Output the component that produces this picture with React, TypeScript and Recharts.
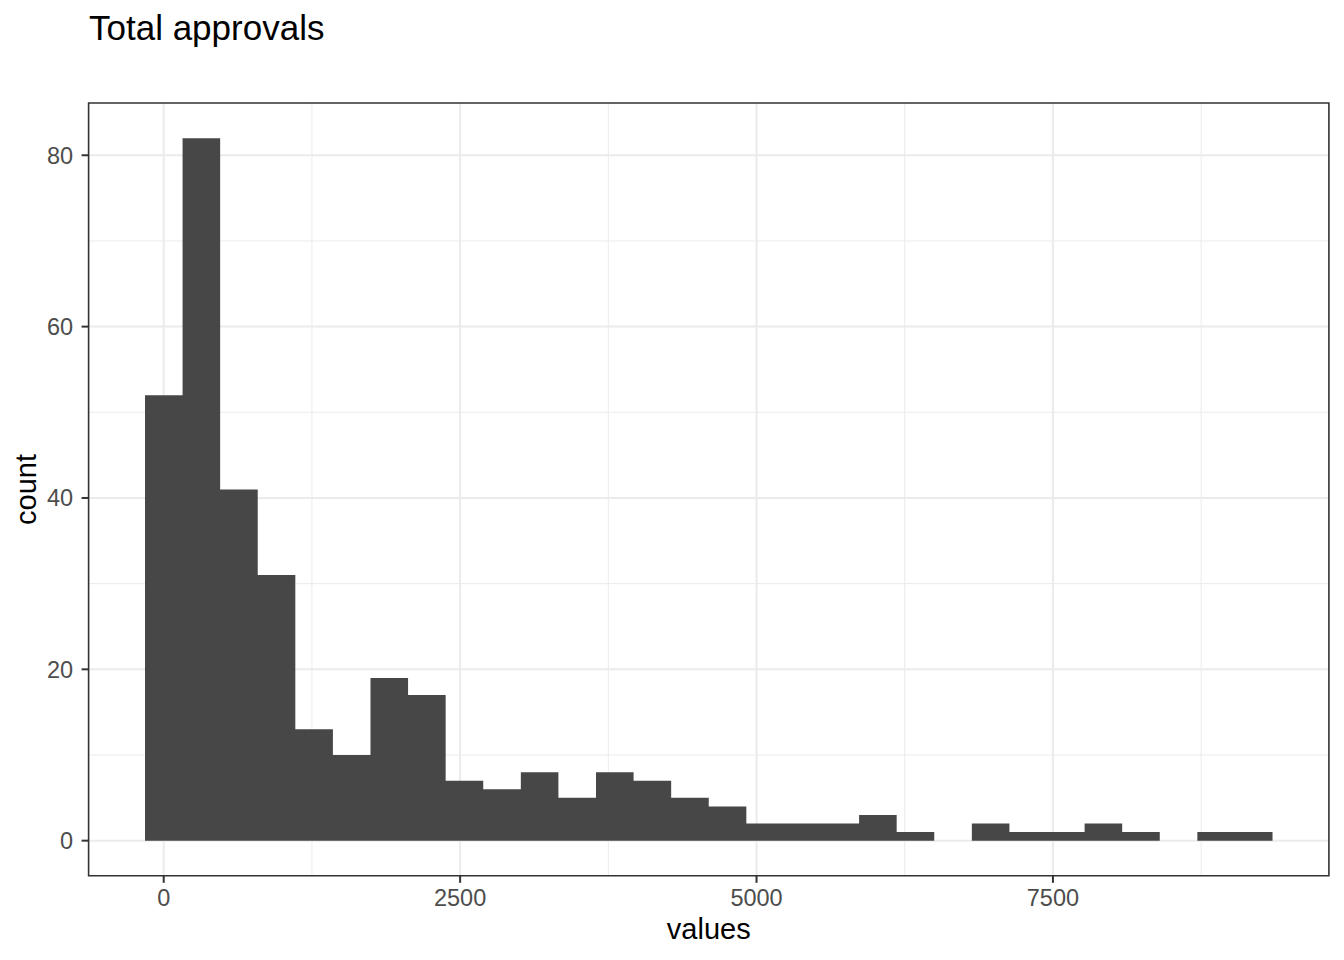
import React from "react";
import {
  ComposedChart,
  Area,
  XAxis,
  YAxis,
  CartesianGrid,
  ReferenceArea,
  Label,
} from "recharts";

// histogram bin edges (values) and the count in each bin
const binEdges = [
  -158, 159, 476, 793, 1110, 1427, 1744, 2061, 2378, 2695, 3012, 3329, 3646,
  3963, 4280, 4597, 4914, 5231, 5548, 5865, 6182, 6499, 6816, 7133, 7450, 7767,
  8084, 8401, 8718, 9035, 9352,
];
const binCounts = [
  52, 82, 41, 31, 13, 10, 19, 17, 7, 6, 8, 5, 8, 7, 5, 4, 2, 2, 2, 3, 1, 0, 2,
  1, 1, 2, 1, 0, 1, 1,
];

const xMajor = [0, 2500, 5000, 7500];
const xMinor = [1250, 3750, 6250, 8750];
const yMajor = [0, 20, 40, 60, 80];
const yMinor = [10, 30, 50, 70];
const xDomain: [number, number] = [-633.5, 9827.5];
const yDomain: [number, number] = [-4.1, 86.1];

// step area needs a closing point at the last edge
const data = binEdges.map((x, i) => ({
  x,
  count: binCounts[Math.min(i, binCounts.length - 1)],
}));

const font = "'Liberation Sans', Arial, Helvetica, sans-serif";
const tickStyle = { fill: "#4D4D4D", fontSize: 23.5, fontFamily: font };

const CountLabel = (props: any) => {
  const vb = props.viewBox || { x: 0, y: 103, height: 773 };
  const cx = vb.x + 36;
  const cy = vb.y + vb.height / 2;
  return (
    <text
      x={cx}
      y={cy}
      transform={`rotate(-90 ${cx} ${cy})`}
      textAnchor="middle"
      fontSize={29}
      fontFamily={font}
      fill="#000000"
    >
      count
    </text>
  );
};

export default function App() {
  return (
    <div
      style={{
        position: "absolute",
        left: 0,
        top: 0,
        width: 1344,
        height: 960,
        background: "#ffffff",
      }}
    >
      <div
        style={{
          position: "absolute",
          left: 89,
          top: 10,
          fontFamily: font,
          fontSize: 35,
          lineHeight: "35px",
          color: "#000000",
          whiteSpace: "nowrap",
        }}
      >
        Total approvals
      </div>
      <ComposedChart
        width={1344}
        height={960}
        data={data}
        margin={{ top: 103, right: 15.1, left: 0, bottom: 0 }}
      >
        <CartesianGrid
          horizontalValues={yMinor}
          verticalValues={xMinor}
          stroke="#EBEBEB"
          strokeWidth={1}
        />
        <CartesianGrid
          horizontalValues={yMajor}
          verticalValues={xMajor}
          stroke="#EBEBEB"
          strokeWidth={2}
        />
        <XAxis
          dataKey="x"
          type="number"
          domain={xDomain}
          allowDataOverflow
          ticks={xMajor}
          height={84.2}
          axisLine={false}
          tickSize={7}
          tickMargin={7}
          tickLine={{ stroke: "#333333", strokeWidth: 2 }}
          tick={tickStyle}
          interval={0}
        >
          <Label
            value="values"
            position="insideBottom"
            offset={21}
            fontSize={29}
            fontFamily={font}
            fill="#000000"
          />
        </XAxis>
        <YAxis
          type="number"
          domain={yDomain}
          allowDataOverflow
          ticks={yMajor}
          width={88.6}
          axisLine={false}
          tickSize={7}
          tickMargin={8.5}
          tickLine={{ stroke: "#333333", strokeWidth: 2 }}
          tick={tickStyle}
          interval={0}
        >
          <Label content={CountLabel} />
        </YAxis>
        <Area
          type="stepAfter"
          dataKey="count"
          baseValue={0}
          fill="#474747"
          fillOpacity={1}
          stroke="none"
          dot={false}
          activeDot={false}
          isAnimationActive={false}
        />
        <ReferenceArea
          x1={xDomain[0]}
          x2={xDomain[1]}
          y1={yDomain[0]}
          y2={yDomain[1]}
          fill="none"
          stroke="#333333"
          strokeWidth={1.6}
          ifOverflow="visible"
        />
      </ComposedChart>
    </div>
  );
}
